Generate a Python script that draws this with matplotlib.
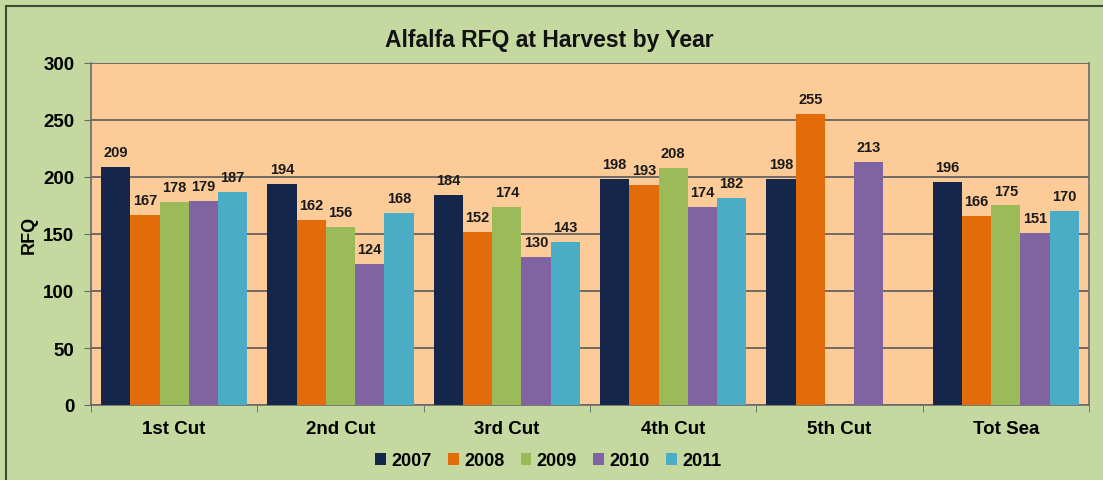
import numpy as np
import matplotlib
matplotlib.use("Agg")
import matplotlib.pyplot as plt
from matplotlib.patches import Rectangle

plt.rcParams['font.family'] = ['Liberation Sans', 'DejaVu Sans']
plt.rcParams['font.weight'] = 'bold'

cuts = ['1st Cut', '2nd Cut', '3rd Cut', '4th Cut', '5th Cut', 'Tot Sea']
years = ['2007', '2008', '2009', '2010', '2011']
rfq_2007 = [209, 194, 184, 198, 198, 196]
rfq_2008 = [167, 162, 152, 193, 255, 166]
rfq_2009 = [178, 156, 174, 208, None, 175]
rfq_2010 = [179, 124, 130, 174, 213, 151]
rfq_2011 = [187, 168, 143, 182, None, 170]
series = [rfq_2007, rfq_2008, rfq_2009, rfq_2010, rfq_2011]
colors = ['#14264A', '#E36C0A', '#9BBB59', '#8064A2', '#4BACC6']

fig = plt.figure(figsize=(11.03, 4.81), dpi=100)
fig.patch.set_facecolor('#C5D8A0')
# dark frame around the chart
fig.patches.append(Rectangle((6 / 1103, -0.05), 1.1, (481 - 7) / 481 + 0.05,
                             transform=fig.transFigure, fill=False,
                             edgecolor='#3E4A2E', linewidth=1.5))

ax = fig.add_axes([91 / 1103, 1 - 406 / 481, (1089 - 91) / 1103, (406 - 64) / 481])
ax.set_facecolor('#FCCB97')

x = np.arange(len(cuts))
w = 0.176
for i, (vals, c) in enumerate(zip(series, colors)):
    pos = x - 2 * w + i * w
    first = True
    for p, v in zip(pos, vals):
        if v is None:
            continue
        ax.bar(p, v, width=w, color=c, zorder=3, label=years[i] if first else None)
        first = False
        ax.text(p, v + 7, str(v), ha='center', va='bottom', fontsize=10.5,
                fontweight='bold', color='#1A1A1A', zorder=4)

ax.set_xlim(-0.5, len(cuts) - 0.5)
ax.set_ylim(0, 300)
ax.set_yticks(range(0, 301, 50))
ax.yaxis.grid(True, color='#5A5A5A', linewidth=1.2, zorder=1)
ax.set_axisbelow(True)

ax.set_xticks(x)
ax.set_xticklabels(cuts, fontsize=13.5, fontweight='bold')
ax.tick_params(axis='x', length=0, pad=11)
ax.set_xticks(np.arange(-0.5, len(cuts)), minor=True)
ax.tick_params(axis='x', which='minor', length=5, color='#6A6A6A', direction='out')
ax.tick_params(axis='y', labelsize=13.5, length=5, color='#6A6A6A', pad=7)
for lab in ax.get_yticklabels():
    lab.set_fontweight('bold')

ax.spines['top'].set_visible(False)
for s in ['left', 'bottom', 'right']:
    ax.spines[s].set_color('#6A6A6A')
    ax.spines[s].set_linewidth(1.2)

ax.set_ylabel('RFQ', fontsize=13, fontweight='bold')
ax.yaxis.set_label_coords(-0.053, 0.5)

fig.text(0.498, 1 - 40 / 481, 'Alfalfa RFQ at Harvest by Year', ha='center', va='center',
         fontsize=16.5, fontweight='bold', color='#111111')

fig.legend(loc='center', bbox_to_anchor=(0.497, 1 - 462 / 481), ncol=5, frameon=False,
           handlelength=0.6, handleheight=0.6, handletextpad=0.3,
           columnspacing=0.9, prop={'weight': 'bold', 'size': 13})

fig.savefig('out.png', dpi=100, facecolor=fig.get_facecolor())
